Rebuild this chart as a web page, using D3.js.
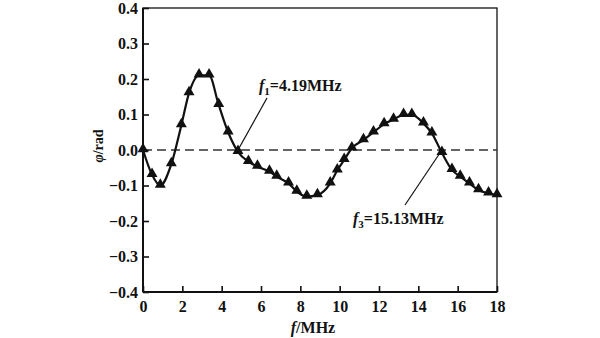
<!DOCTYPE html>
<html>
<head>
<meta charset="utf-8">
<script src="https://cdn.jsdelivr.net/npm/d3@7"></script>
<style>
  html, body { margin: 0; padding: 0; background: #fff; }
  svg { display: block; }
  text { font-family: "Liberation Serif", "Times New Roman", serif; fill: #111; }
</style>
</head>
<body>
<div id="chart"></div>
<script>
// Phase response φ(f) sampled across 0–18 MHz
const freqMHz = [0, 0.46, 0.88, 1.44, 1.95, 2.34, 2.85, 3.36, 3.85, 4.33, 4.83,
  5.36, 5.82, 6.43, 6.8, 7.4, 7.82, 8.33, 8.87, 9.52, 9.88, 10.23, 10.62,
  11.21, 11.72, 12.26, 12.74, 13.25, 13.67, 14.26, 14.69, 15.2, 15.71, 16.13,
  16.6, 17.06, 17.57, 18];
const phaseRad = [0, -0.07, -0.10, -0.04, 0.07, 0.16, 0.21, 0.21, 0.127, 0.05, -0.005,
  -0.033, -0.047, -0.061, -0.075, -0.094, -0.117, -0.131, -0.127, -0.094, -0.057, -0.028, 0.005,
  0.028, 0.05, 0.073, 0.086, 0.099, 0.099, 0.075, 0.047, -0.008, -0.056, -0.075,
  -0.094, -0.113, -0.122, -0.127];

const xTicks = [0, 2, 4, 6, 8, 10, 12, 14, 16, 18];
const yTicks = [0.4, 0.3, 0.2, 0.1, 0.0, -0.1, -0.2, -0.3, -0.4];
const yTickLabels = ["0.4", "0.3", "0.2", "0.1", "0.0", "\u22120.1", "\u22120.2", "\u22120.3", "\u22120.4"];

// Zero-crossing annotations: anchor frequency, label parts
const crossFreq = [4.83, 15.2];
const crossSub = ["1", "3"];
const crossValue = ["=4.19MHz", "=15.13MHz"];

const W = 600, H = 338;
const margin = { left: 143, right: 103, top: 8, bottom: 46 };

const svg = d3.select("#chart").append("svg")
  .attr("width", W).attr("height", H);

const x = d3.scaleLinear().domain([0, 18]).range([margin.left, W - margin.right]);
const y = d3.scaleLinear().domain([-0.4, 0.4]).range([H - margin.bottom, margin.top]);

// Frame
svg.append("rect")
  .attr("x", x(0)).attr("y", y(0.4))
  .attr("width", x(18) - x(0)).attr("height", y(-0.4) - y(0.4))
  .attr("fill", "none").attr("stroke", "#111").attr("stroke-width", 1.3);
svg.append("line")
  .attr("x1", x(0)).attr("x2", x(0)).attr("y1", y(0.4)).attr("y2", y(-0.4))
  .attr("stroke", "#111").attr("stroke-width", 2);
svg.append("line")
  .attr("x1", x(0)).attr("x2", x(18)).attr("y1", y(-0.4)).attr("y2", y(-0.4))
  .attr("stroke", "#111").attr("stroke-width", 2);

// Bottom axis: inward ticks
const xAxis = d3.axisBottom(x).tickValues(xTicks).tickSizeInner(-6).tickSizeOuter(0)
  .tickPadding(9).tickFormat(d3.format("d"));
const gx = svg.append("g").attr("transform", `translate(0,${y(-0.4)})`).call(xAxis);
gx.select(".domain").remove();
gx.selectAll(".tick line").attr("stroke", "#111").attr("stroke-width", 1.6);
gx.selectAll(".tick text").attr("font-size", 16).attr("font-weight", "bold")
  .attr("dy", "0.71em").style("font-family", "Liberation Serif");

// Left axis: inward ticks
const yAxis = d3.axisLeft(y).tickValues(yTicks).tickSizeInner(-6).tickSizeOuter(0)
  .tickPadding(5).tickFormat((d, i) => yTickLabels[i]);
const gy = svg.append("g").attr("transform", `translate(${x(0)},0)`).call(yAxis);
gy.select(".domain").remove();
gy.selectAll(".tick line").attr("stroke", "#111").attr("stroke-width", 1.6);
gy.selectAll(".tick text").attr("font-size", 16).attr("font-weight", "bold")
  .style("font-family", "Liberation Serif");

// Zero reference line
svg.append("line")
  .attr("x1", x(0)).attr("x2", x(18)).attr("y1", y(0)).attr("y2", y(0))
  .attr("stroke", "#333").attr("stroke-width", 1.5).attr("stroke-dasharray", "9,5");

// Phase curve
const pts = freqMHz.map((f, i) => [f, phaseRad[i]]);
svg.append("path")
  .datum(pts)
  .attr("fill", "none").attr("stroke", "#111").attr("stroke-width", 2.2)
  .attr("d", d3.line().x(d => x(d[0])).y(d => y(d[1])).curve(d3.curveMonotoneX));

// Triangle markers
const tri = d3.symbol().type(d3.symbolTriangle).size(52);
svg.append("g").selectAll("path").data(pts).join("path")
  .attr("d", tri)
  .attr("transform", d => `translate(${x(d[0])},${y(d[1]) - 1})`)
  .attr("fill", "#111");

// Leader lines to zero crossings
const leaderEnd = [[267, 98], [405, 205]];
crossFreq.forEach((f, i) => {
  svg.append("line")
    .attr("x1", x(f)).attr("y1", y(0))
    .attr("x2", leaderEnd[i][0]).attr("y2", leaderEnd[i][1])
    .attr("stroke", "#111").attr("stroke-width", 1.2);
});

// Crossing labels
const labelPos = [[259, 91], [353, 224]];
crossFreq.forEach((f, i) => {
  const t = svg.append("text")
    .attr("x", labelPos[i][0]).attr("y", labelPos[i][1])
    .attr("font-size", 16).attr("font-weight", "bold");
  t.append("tspan").attr("font-style", "italic").text("f");
  t.append("tspan").attr("font-size", 11).attr("dy", 4).text(crossSub[i]);
  t.append("tspan").attr("dy", -4).text(crossValue[i]);
});

// Axis titles
svg.append("text")
  .attr("x", 313).attr("y", 333).attr("text-anchor", "middle")
  .attr("font-size", 16).attr("font-weight", "bold")
  .call(t => {
    t.append("tspan").attr("font-style", "italic").text("f");
    t.append("tspan").text("/MHz");
  });

svg.append("text")
  .attr("transform", `translate(103,146) rotate(-90)`)
  .attr("text-anchor", "middle")
  .attr("font-size", 14).attr("font-weight", "bold")
  .call(t => {
    t.append("tspan").attr("font-style", "italic").text("\u03c6");
    t.append("tspan").text("/rad");
  });
</script>
</body>
</html>
